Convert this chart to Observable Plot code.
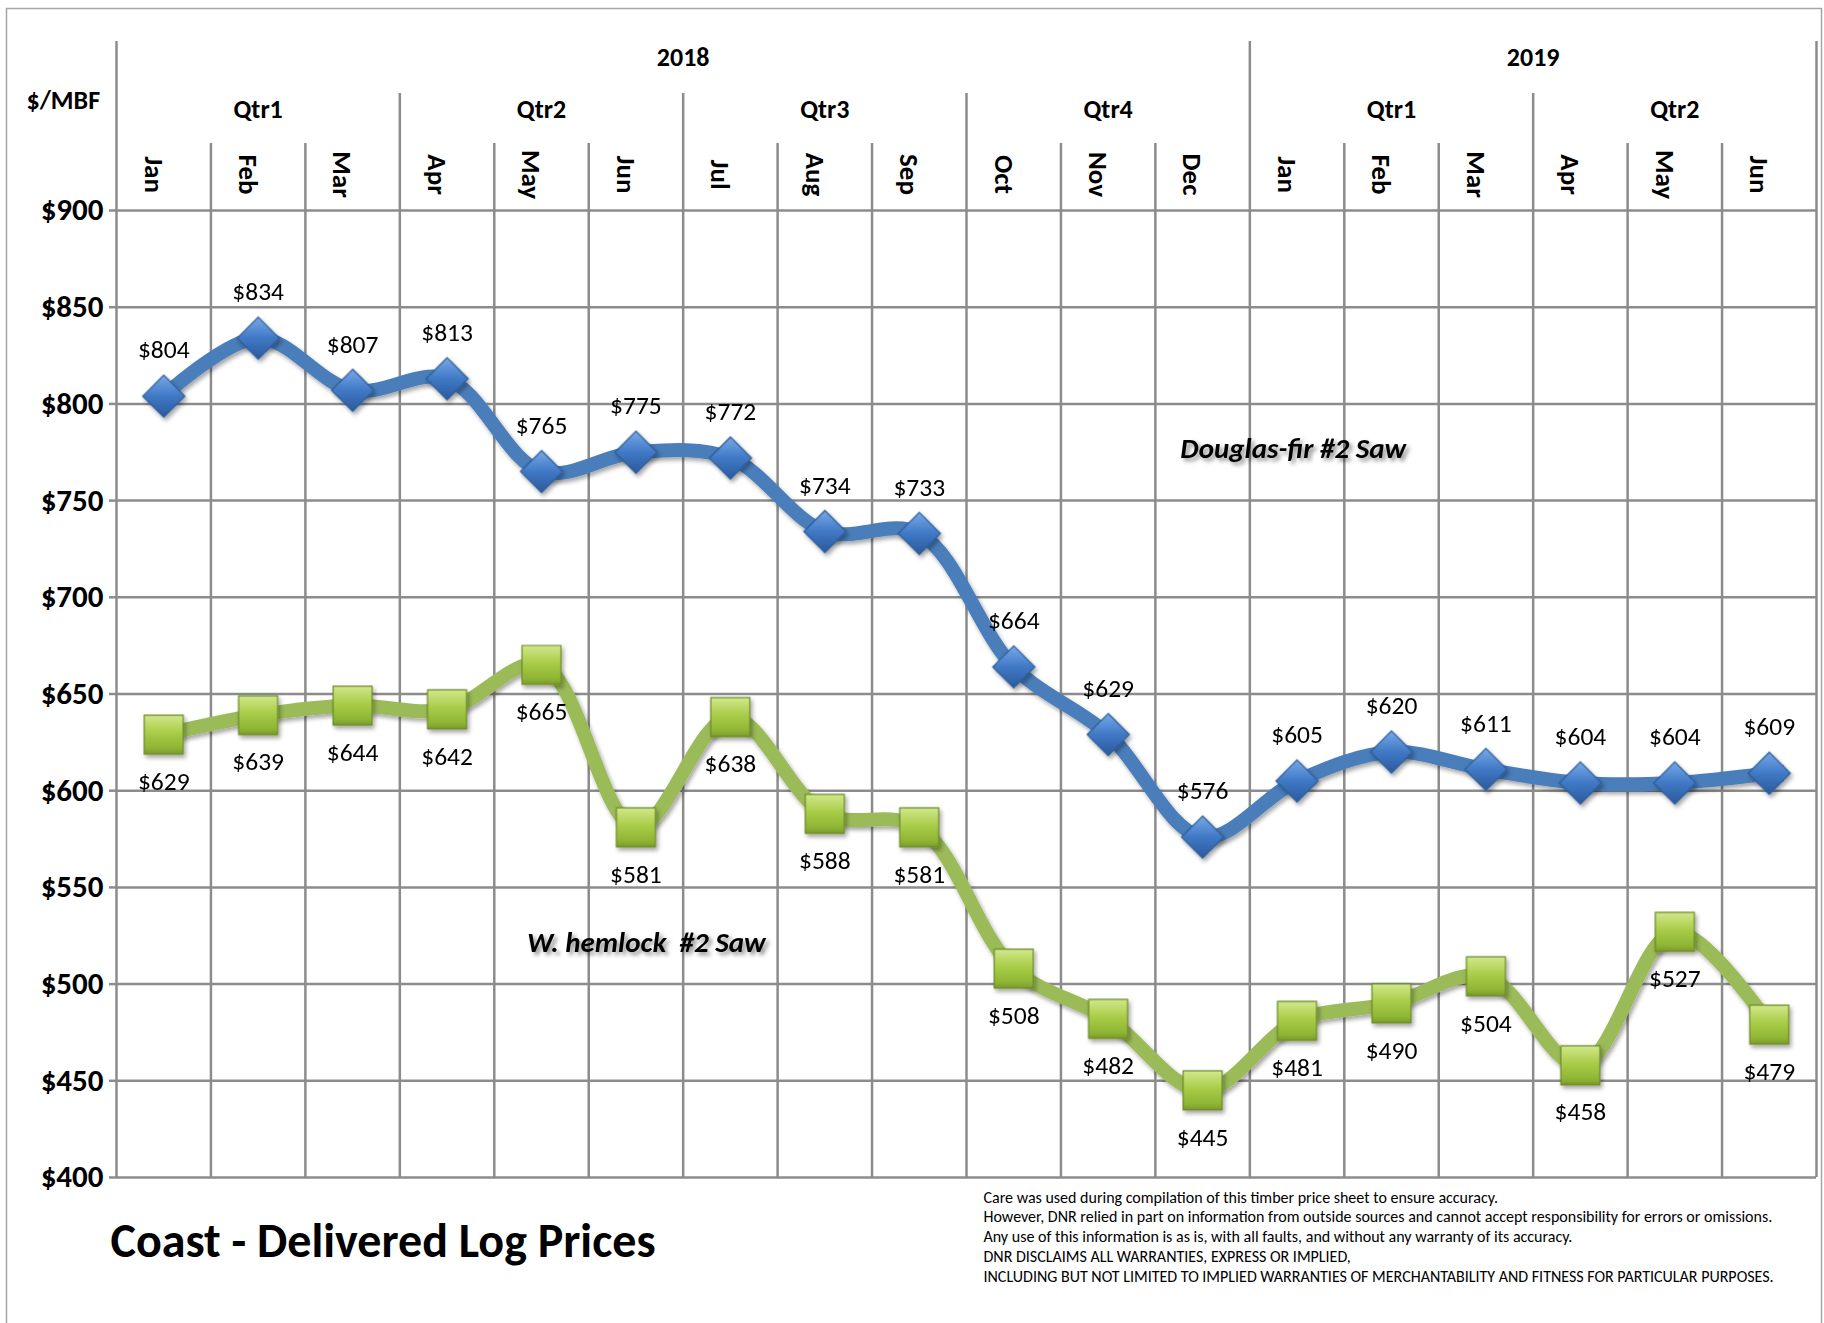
<!DOCTYPE html>
<html>
<head>
<meta charset="utf-8">
<script src="https://cdn.jsdelivr.net/npm/d3@7"></script>
<script src="https://cdn.jsdelivr.net/npm/@observablehq/plot@0.6"></script>
<style>
  html, body { margin: 0; padding: 0; background: #fff; overflow: hidden; }
</style>
</head>
<body>
<div id="chart"></div>
<script>
// ---- Data ----
const monthLabels = ["Jan","Feb","Mar","Apr","May","Jun","Jul","Aug","Sep","Oct","Nov","Dec","Jan","Feb","Mar","Apr","May","Jun"];
const quarterLabels = ["Qtr1","Qtr2","Qtr3","Qtr4","Qtr1","Qtr2"];
const yearLabels = ["2018","2019"];
const yearMonthCounts = [12, 6];
const douglasFir = [804, 834, 807, 813, 765, 775, 772, 734, 733, 664, 629, 576, 605, 620, 611, 604, 604, 609];
const westernHemlock = [629, 639, 644, 642, 665, 581, 638, 588, 581, 508, 482, 445, 481, 490, 504, 458, 527, 479];
const priceTicks = [400, 450, 500, 550, 600, 650, 700, 750, 800, 850, 900];
const seriesNames = ["Douglas-fir #2 Saw", "W. hemlock  #2 Saw"];
const titleText = "Coast - Delivered Log Prices";
const unitText = "$/MBF";
const disclaimerLines = [
  "Care was used during compilation of this timber price sheet to ensure accuracy.",
  "However, DNR relied in part on information from outside sources and cannot accept responsibility for errors or omissions.",
  "Any use of this information is as is, with all faults, and without any warranty of its accuracy.",
  "DNR DISCLAIMS ALL WARRANTIES, EXPRESS OR IMPLIED,",
  "INCLUDING BUT NOT LIMITED TO IMPLIED WARRANTIES OF MERCHANTABILITY AND FITNESS FOR PARTICULAR PURPOSES."
];

// ---- Derived tables ----
const N = monthLabels.length;
const months = monthLabels.map((m, i) => ({i, m, x: i + 0.5, df: douglasFir[i], wh: westernHemlock[i]}));
const quarters = quarterLabels.map((q, k) => ({q, x: k * 3 + 1.5}));
let acc = 0;
const years = yearLabels.map((y, k) => { const s = acc; acc += yearMonthCounts[k]; return {y, x: (s + acc) / 2, start: s, end: acc}; });
const yearBounds = Array.from(new Set(years.flatMap(d => [d.start, d.end])));
const allBounds = d3.range(0, N + 1);
const quarterBounds = allBounds.filter(b => b % 3 === 0 && !yearBounds.includes(b));
const monthBounds = allBounds.filter(b => b % 3 !== 0);

const FONT = "Carlito, Lato, 'Open Sans', sans-serif";
const GRID = "#8c8c8c";

const chart = Plot.plot({
  width: 1824,
  height: 1323,
  marginLeft: 116,
  marginRight: 8,
  marginTop: 210,
  marginBottom: 146,
  style: {fontFamily: FONT, background: "white", color: "black"},
  x: {domain: [0, N], axis: null},
  y: {domain: [400, 900], axis: null},
  marks: [
    // outer chart-area border
    Plot.frame({stroke: "#a6a6a6", strokeWidth: 1.5, insetTop: -202, insetLeft: -110, insetRight: -5, insetBottom: -160}),
    // horizontal grid
    Plot.gridY(priceTicks, {stroke: GRID, strokeOpacity: 1, strokeWidth: 2.5}),
    // vertical separators with header extensions
    Plot.ruleX(monthBounds, {stroke: GRID, strokeWidth: 2.5, insetTop: -67}),
    Plot.ruleX(quarterBounds, {stroke: GRID, strokeWidth: 2.5, insetTop: -117}),
    Plot.ruleX(yearBounds, {stroke: GRID, strokeWidth: 2.5, insetTop: -169}),
    // y axis
    Plot.axisY(priceTicks, {tickFormat: d => "$" + d, fontSize: 31, fontWeight: "bold", tickSize: 7, tickPadding: 6, stroke: GRID, strokeWidth: 2.5, fill: "black", label: null}),
    // header labels
    Plot.text(months, {x: "x", text: "m", frameAnchor: "top", dy: -36, rotate: 90, fontSize: 27, fontWeight: "bold", fill: "black"}),
    Plot.text(quarters, {x: "x", text: "q", frameAnchor: "top", dy: -111, fontSize: 26, fontWeight: "bold", fill: "black"}),
    Plot.text(years, {x: "x", text: "y", frameAnchor: "top", dy: -163, fontSize: 26, fontWeight: "bold", fill: "black"}),
    Plot.text([unitText], {frameAnchor: "top-left", dx: -90, dy: -120, fontSize: 26, fontWeight: "bold", fill: "black"}),
    // series lines
    Plot.line(months, {x: "x", y: "wh", curve: "catmull-rom", stroke: "#9bbb59", strokeWidth: 14, strokeLinecap: "round", strokeLinejoin: "round"}),
    Plot.line(months, {x: "x", y: "df", curve: "catmull-rom", stroke: "#4a7ebb", strokeWidth: 14, strokeLinecap: "round", strokeLinejoin: "round"}),
    // markers
    Plot.dot(months, {x: "x", y: "wh", symbol: "square", r: 22, fill: "url(#gradGreen)", stroke: "#6d8a2a", strokeWidth: 1.2}),
    Plot.dot(months, {x: "x", y: "df", symbol: "diamond2", r: 19, fill: "url(#gradBlue)", stroke: "#2d5b94", strokeWidth: 1.2}),
    // data labels
    Plot.text(months, {x: "x", y: "df", text: d => "$" + d.df, dy: -46, fontSize: 25.5, fill: "black"}),
    Plot.text(months, {x: "x", y: "wh", text: d => "$" + d.wh, dy: 47, fontSize: 25.5, fill: "black"}),
    // series names
    Plot.text([seriesNames[0]], {x: 12.46, y: 777, fontSize: 29, fontWeight: "bold", fontStyle: "italic", fill: "black", ariaDescription: "series-label"}),
    Plot.text([seriesNames[1]], {x: 5.61, y: 521.5, fontSize: 29, fontWeight: "bold", fontStyle: "italic", fill: "black", ariaDescription: "series-label"}),
    // title and disclaimer
    Plot.text([titleText], {frameAnchor: "bottom-left", dx: -6, dy: 64, textAnchor: "start", lineAnchor: "middle", fontSize: 48, fontWeight: "bold", fill: "black"}),
    Plot.text([disclaimerLines.join("\n")], {frameAnchor: "bottom-left", dx: 867, dy: 11, textAnchor: "start", lineAnchor: "top", fontSize: 16, lineHeight: 1.24, fill: "black"})
  ]
});

// gradients and shadow
const svg = d3.select(chart);
const defs = svg.insert("defs", ":first-child");
const gb = defs.append("linearGradient").attr("id", "gradBlue").attr("x1", 0).attr("y1", 0).attr("x2", 0).attr("y2", 1);
gb.append("stop").attr("offset", "0").attr("stop-color", "#78a9e8");
gb.append("stop").attr("offset", "0.5").attr("stop-color", "#4079c6");
gb.append("stop").attr("offset", "1").attr("stop-color", "#2b5a9c");
const gg = defs.append("linearGradient").attr("id", "gradGreen").attr("x1", 0).attr("y1", 0).attr("x2", 0).attr("y2", 1);
gg.append("stop").attr("offset", "0").attr("stop-color", "#d2e88c");
gg.append("stop").attr("offset", "0.45").attr("stop-color", "#a9cd48");
gg.append("stop").attr("offset", "0.85").attr("stop-color", "#8fb534");
gg.append("stop").attr("offset", "1").attr("stop-color", "#7a9a2c");
const f = defs.append("filter").attr("id", "shadow").attr("x", "-20%").attr("y", "-20%").attr("width", "150%").attr("height", "150%");
f.append("feDropShadow").attr("dx", 2).attr("dy", 3).attr("stdDeviation", 2.2).attr("flood-color", "#000").attr("flood-opacity", 0.35);
const f2 = defs.append("filter").attr("id", "textShadow").attr("x", "-10%").attr("y", "-30%").attr("width", "130%").attr("height", "180%");
f2.append("feDropShadow").attr("dx", 3).attr("dy", 3).attr("stdDeviation", 2).attr("flood-color", "#000").attr("flood-opacity", 0.45);
svg.selectAll('g[aria-label="dot"]').attr("filter", "url(#shadow)");
svg.selectAll('g[aria-label="line"]').attr("filter", "url(#shadow)");
svg.selectAll('g[aria-description="series-label"]').attr("filter", "url(#textShadow)");

document.getElementById("chart").appendChild(chart);
</script>
</body>
</html>
